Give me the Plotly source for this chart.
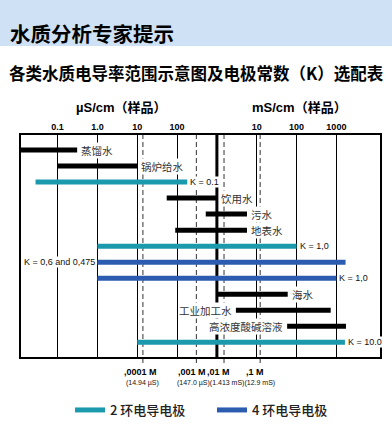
import math
import plotly.graph_objects as go

# ---------------- data ----------------
row_labels = ["蒸馏水", "锅炉给水", "K = 0.1", "饮用水", "污水", "地表水", "K = 1,0",
              "K = 0,6 and 0,475", "K = 1,0", "海水", "工业加工水", "高浓度酸碱溶液", "K = 10.0"]
range_low = [0.01, 0.1, 0.028, 55, 525, 90, 1, 1, 1, 1000, 3000, 58000, 10]            # µS/cm
range_high = [0.31, 10, 180, 1000, 5700, 5700, 1e5, 1.7e6, 1e6, 6e4, 7.2e5, 1.74e6, 1.64e6]  # µS/cm
row_kind = ["sample", "sample", "2-ring", "sample", "sample", "sample", "2-ring",
            "4-ring", "4-ring", "sample", "sample", "sample", "2-ring"]
label_side = ["right", "right", "right", "right", "right", "right", "right",
              "left", "right", "right", "left", "left", "right"]

tick_values = [0.1, 1, 10, 100, 1e4, 1e5, 1e6]
tick_labels = ["0.1", "1.0", "10", "100", "10", "100", "1000"]
unit_boundary = [1000]                       # 1 mS/cm, µS | mS split
kcl_labels = [",0001 M", ",001 M", ",01 M", ",1 M"]
kcl_values = [13.9, 305, 1510, 12200]        # as drawn in the picture
kcl_label_shift = [-2.5, -4, -6, -5]
kcl_notes = ["(14.94 µS)", "(147.0 µS)(1.413 mS)(12.9 mS)"]
legend_names = {"2-ring": "2 环电导电极", "4-ring": "4 环电导电极"}
colors = {"sample": "#000000", "2-ring": "#1c9aad", "4-ring": "#2b5cb0"}

# ---------------- geometry ----------------
W, H = 392, 431
L, R, T, B = 21, 12, 135, 74
PW, PH = W - L - R, H - T - B


def px2x(px):
    return (px - L) / PW


def py2y(py):
    return (H - B - py) / PH


LAT = "Liberation Sans, Arial, sans-serif"
CJK = "Noto Sans CJK SC, Noto Sans, sans-serif"
MIX = "Liberation Sans, Noto Sans CJK SC, sans-serif"

fig = go.Figure()
shown = set()
for i, lab in enumerate(row_labels):
    kind = row_kind[i]
    show = kind != "sample" and kind not in shown
    if show:
        shown.add(kind)
    fig.add_trace(go.Scatter(
        x=[range_low[i], range_high[i]], y=[i, i], mode="lines",
        line=dict(color=colors[kind], width=5),
        name=legend_names.get(kind, lab), showlegend=show,
        hoverinfo="skip"))

shapes = []
# header band
shapes.append(dict(type="rect", xref="paper", yref="paper",
                   x0=px2x(0), x1=px2x(W), y0=py2y(46), y1=py2y(0),
                   fillcolor="#cfe2f5", line=dict(width=0), layer="below"))
for v in unit_boundary:
    shapes.append(dict(type="line", xref="x", yref="paper", x0=v, x1=v, y0=0, y1=1,
                       line=dict(color="black", width=3), layer="below"))
for v in kcl_values:
    shapes.append(dict(type="line", xref="x", yref="paper", x0=v, x1=v,
                       y0=py2y(363), y1=1,
                       line=dict(color="#333333", width=1, dash="5px,3px"), layer="below"))

ann = []
for i, lab in enumerate(row_labels):
    is_k = lab.startswith("K")
    right = label_side[i] == "right"
    xv = range_high[i] if right else range_low[i]
    ann.append(dict(
        x=math.log10(xv), y=i, xref="x", yref="y", text=lab, showarrow=False,
        xanchor="left" if right else "right", yanchor="middle",
        xshift=(3 if right else -3) if not is_k else (2 if right else -1),
        font=dict(family=LAT if is_k else CJK, size=9 if is_k else 10.5,
                  color="#111111" if is_k else "#333333"),
        bgcolor="white", borderpad=0))

# titles
ann.append(dict(x=px2x(8), y=py2y(33), xref="paper", yref="paper", xanchor="left",
                yanchor="middle", text="<b>水质分析专家提示</b>", showarrow=False,
                font=dict(family=CJK, size=20.5, color="#000000")))
ann.append(dict(x=px2x(7), y=py2y(73), xref="paper", yref="paper", xanchor="left",
                yanchor="middle", text="<b>各类水质电导率范围示意图及电极常数（K）选配表</b>",
                showarrow=False, font=dict(family=CJK, size=16.5, color="#000000")))
ann.append(dict(x=px2x(121), y=py2y(108), xref="paper", yref="paper", xanchor="center",
                yanchor="middle", text="<b>µS/cm（样品）</b>", showarrow=False,
                font=dict(family=MIX, size=13, color="#000000")))
ann.append(dict(x=px2x(299), y=py2y(108), xref="paper", yref="paper", xanchor="center",
                yanchor="middle", text="<b>mS/cm（样品）</b>", showarrow=False,
                font=dict(family=MIX, size=13, color="#000000")))

# KCl standard labels
for v, t, s in zip(kcl_values, kcl_labels, kcl_label_shift):
    ann.append(dict(x=math.log10(v), y=py2y(372), xref="x", yref="paper", text="<b>" + t + "</b>",
                    showarrow=False, xanchor="center", yanchor="middle", xshift=s,
                    font=dict(family=LAT, size=9, color="#000000")))
ann.append(dict(x=math.log10(kcl_values[0]), y=py2y(383), xref="x", yref="paper", text=kcl_notes[0],
                showarrow=False, xanchor="center", yanchor="middle",
                font=dict(family=LAT, size=7, color="#111111")))
ann.append(dict(x=px2x(226), y=py2y(383), xref="paper", yref="paper", text=kcl_notes[1],
                showarrow=False, xanchor="center", yanchor="middle",
                font=dict(family=LAT, size=7, color="#111111")))

fig.update_layout(
    width=W, height=H, margin=dict(l=L, r=R, t=T, b=B, pad=0, autoexpand=False),
    paper_bgcolor="white", plot_bgcolor="white",
    shapes=shapes, annotations=ann,
    xaxis=dict(type="log", range=[-1.918, 7.095], side="top",
               tickvals=tick_values, ticktext=tick_labels, ticks="",
               tickfont=dict(family=LAT, size=9, color="black", weight="bold"),
               showgrid=True, gridcolor="black", gridwidth=1,
               showline=True, mirror=True, linecolor="black", linewidth=1.5,
               zeroline=False, fixedrange=True, automargin=False),
    yaxis=dict(range=[12.914, -0.936], showticklabels=False, showgrid=False,
               showline=True, mirror=True, linecolor="black", linewidth=1.5,
               zeroline=False, fixedrange=True, automargin=False),
    showlegend=True,
    legend=dict(orientation="h", x=px2x(70), xanchor="left", y=py2y(410), yanchor="middle",
                entrywidth=97, entrywidthmode="pixels",
                font=dict(family=CJK, size=13, color="#222222", weight=500),
                bgcolor="rgba(0,0,0,0)", itemclick=False, itemdoubleclick=False),
)

fig.write_html("out.html", config={"displayModeBar": False},
               post_script="document.body.style.margin='0';document.body.style.overflow='hidden';")
